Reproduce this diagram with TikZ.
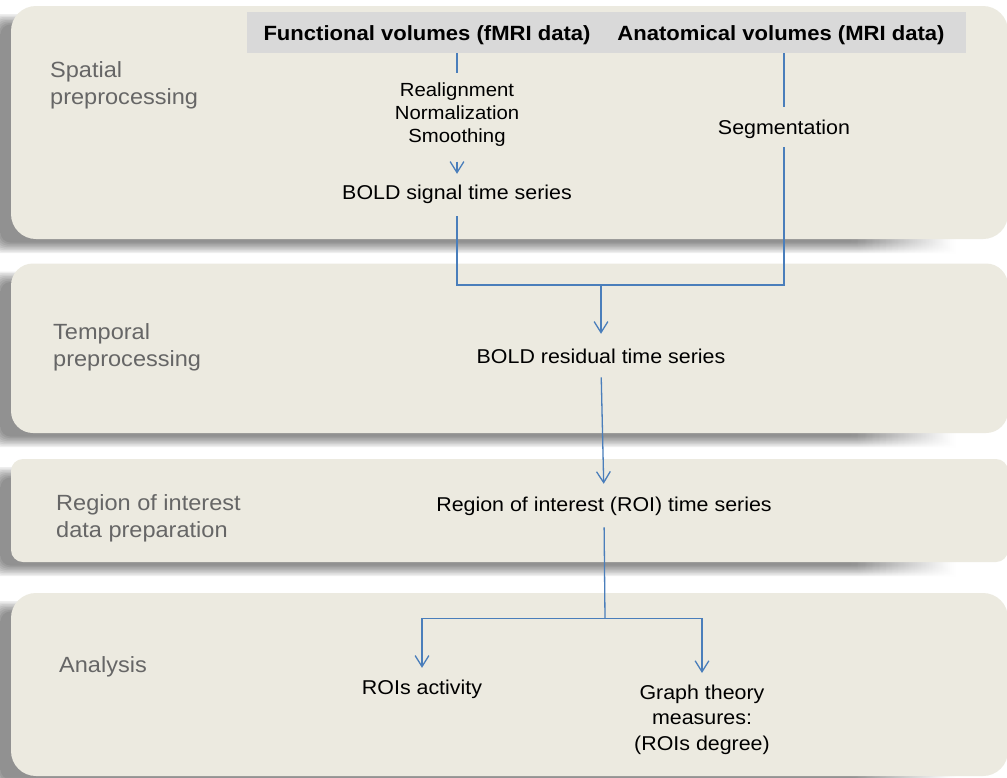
\documentclass[tikz,border=0pt]{standalone}
\usepackage{fontspec}
\setmainfont{Liberation Sans}[FakeStretch=1.07]
\usetikzlibrary{arrows.meta}
\definecolor{panelc}{HTML}{ECEAE0}
\definecolor{headc}{HTML}{D9D9D9}
\definecolor{labc}{HTML}{666666}
\definecolor{linec}{HTML}{4A7EBB}
\definecolor{shc}{HTML}{000000}
\pgfdeclarehorizontalshading{shfade}{100bp}{color(0bp)=(shc); color(69bp)=(shc); color(74bp)=(white); color(100bp)=(white)}
\newcommand\mypanel[5]{%
  \foreach \i in {0,...,7}{%
    \shade[shading=shfade, opacity=0.065, rounded corners=10pt]
      (-10+\i*1.5, #2+8+\i*1.5) rectangle (975-\i*1.5, #4+14-\i*1.5);
  }%
  \fill[panelc, rounded corners=#5] (#1,#2) rectangle (#3,#4);
}
\begin{document}
\begin{tikzpicture}[x=1pt,y=-1pt,
  body/.style={font=\fontsize{20}{24}\selectfont, inner sep=0pt, anchor=base, text height=14.3pt, text depth=4.2pt},
  steplist/.style={font=\fontsize{19}{23}\selectfont, inner sep=0pt, anchor=north, align=center},
  graphlist/.style={font=\fontsize{20}{25.5}\selectfont, inner sep=0pt, anchor=north, align=center},
  head/.style={font=\fontsize{20.6}{24}\selectfont\bfseries, inner sep=0pt, anchor=base},
  lab/.style={font=\fontsize{22}{27}\selectfont, text=labc, inner sep=0pt, align=left},
  conn/.style={draw=linec, line width=1.3pt},
  arr/.style={conn, -{Straight Barb[angle=64:13pt, line width=1.3pt]}}
]
\useasboundingbox (0,0) rectangle (1007,777);
\fill[white] (0,0) rectangle (1007,777);

% panels with shadows
\mypanel{11}{6}{1008}{239}{25}
\mypanel{11}{263.5}{1008}{433}{22}
\mypanel{11}{459}{1008}{562}{12}
\mypanel{11}{593}{1008}{776}{25}

% header bar
\node[fill=headc, minimum width=719pt, minimum height=41pt, inner sep=0pt, anchor=north west] (header) at (247,12) {};
\node[head] (func) at (427,40.5) {Functional volumes (fMRI data)};
\node[head] (anat) at (781,40.5) {Anatomical volumes (MRI data)};

% stage labels
\node[lab, anchor=north west] (lspatial) at (50,61) {Spatial\\preprocessing};
\node[lab, anchor=north west] (ltemporal) at (53,323.5) {Temporal\\preprocessing};
\node[lab, anchor=north west] (lroi) at (56,494) {Region of interest\\data preparation};
\node[lab, anchor=base west] (lanalysis) at (59,672.5) {Analysis};

% content nodes
\node[steplist] (steps) at (457,82.9) {Realignment\\Normalization\\Smoothing};
\node[body] (bold) at (457,199.3) {BOLD signal time series};
\node[body] (seg) at (784,134) {Segmentation};
\node[body] (resid) at (601,363) {BOLD residual time series};
\node[body] (roi) at (604,511) {Region of interest (ROI) time series};
\node[body] (act) at (422,694.3) {ROIs activity};
\node[graphlist] (graph) at (702,684.7) {Graph theory\\measures:\\(ROIs degree)};

\coordinate (merge) at (601,285);
\coordinate (split) at (605,618.5);

% connectors
\draw[conn, shorten >=10pt] (header.south -| steps.north) -- (steps.north);
\draw[arr, shorten <=14.5pt, shorten >=11pt] (steps.south) -- (bold.north);
\draw[conn, shorten >=12.7pt] (header.south -| seg.north) -- (seg.north);
\draw[conn, shorten <=12.5pt] (bold.south) |- (merge);
\draw[conn, shorten <=9pt] (seg.south) |- (merge);
\draw[arr, shorten >=14.7pt] (merge) -- (merge |- resid.north);
\draw[arr, shorten <=10pt, shorten >=12.7pt] (resid.south) -- (roi.north);
\draw[conn, shorten <=12pt] (roi.south) -- (split);
\draw[arr, shorten >=12pt] (split) -| (act.north);
\draw[arr, shorten >=11.7pt] (split) -| (graph.north);
\end{tikzpicture}
\end{document}
